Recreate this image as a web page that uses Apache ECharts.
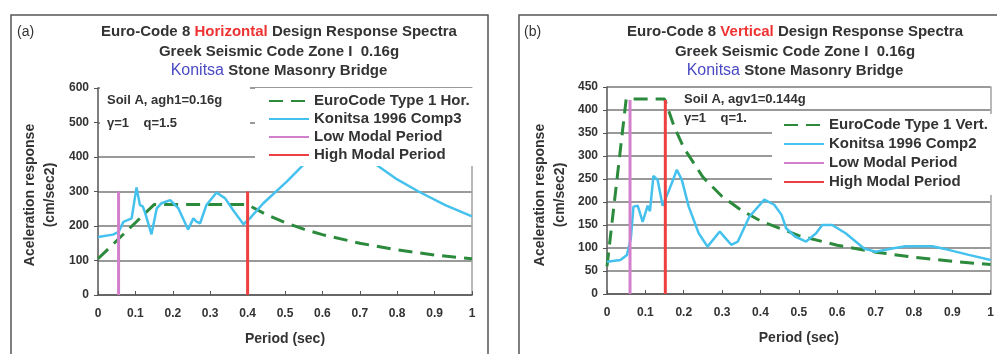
<!DOCTYPE html>
<html>
<head>
<meta charset="utf-8">
<script src="https://cdn.jsdelivr.net/npm/echarts@6/dist/echarts.min.js"></script>
<style>
  html, body { margin: 0; padding: 0; background: #fff; }
  #chart { width: 997px; height: 354px; }
</style>
</head>
<body>
<div id="chart"></div>
<script>
// ---- (a) horizontal spectra ----
const periodTicks = [0, 0.1, 0.2, 0.3, 0.4, 0.5, 0.6, 0.7, 0.8, 0.9, 1];

const hCodeT = [0, 0.15, 0.4, 0.45, 0.5, 0.55, 0.6, 0.7, 0.8, 0.9, 1.0];
const hCodeA = [105, 262, 262, 233, 210, 191, 175, 150, 131, 116, 105];

const hRecT = [0, 0.04, 0.055, 0.068, 0.09, 0.103, 0.112, 0.12, 0.126, 0.143, 0.157, 0.17, 0.193, 0.215,
  0.241, 0.255, 0.264, 0.273, 0.29, 0.317, 0.34, 0.362, 0.389, 0.406, 0.442, 0.504, 0.549, 0.6, 0.65,
  0.7, 0.745, 0.8, 0.857, 0.93, 1.0];
const hRecA = [168, 175, 183, 212, 222, 312, 261, 256, 238, 176, 251, 266, 275, 251,
  190, 222, 212, 208, 261, 297, 280, 245, 205, 222, 266, 328, 377, 430, 450,
  420, 377, 335, 300, 260, 228];

const hLowPeriod = 0.055;
const hHighPeriod = 0.4;
const hModalTop = 300;

// ---- (b) vertical spectra ----
const vCodeT = [0, 0.05, 0.15, 0.175, 0.2, 0.25, 0.3, 0.35, 0.4, 0.5, 0.6, 0.7, 0.8, 0.9, 1.0];
const vCodeA = [60, 424, 424, 364, 318, 254, 212, 182, 159, 127, 106, 91, 80, 71, 64];

const vRecT = [0, 0.035, 0.052, 0.062, 0.069, 0.08, 0.093, 0.106, 0.112, 0.121, 0.132, 0.145, 0.16, 0.173,
  0.182, 0.195, 0.213, 0.239, 0.262, 0.294, 0.308, 0.324, 0.341, 0.371, 0.41, 0.436, 0.455, 0.467, 0.49,
  0.519, 0.545, 0.561, 0.587, 0.622, 0.67, 0.70, 0.743, 0.778, 0.848, 0.89, 0.943, 1.0];
const vRecA = [70, 74, 85, 120, 190, 192, 157, 192, 180, 257, 248, 192, 222, 250,
  270, 248, 190, 132, 103, 136, 122, 107, 114, 168, 205, 194, 172, 143, 125,
  114, 132, 150, 150, 132, 99, 92, 99, 104, 104, 96, 85, 74];

const vLowPeriod = 0.06;
const vHighPeriod = 0.152;
const vModalTop = 422;

const NAME_CODE_H = 'EuroCode Type 1 Hor.';
const NAME_REC_H = 'Konitsa 1996 Comp3';
const NAME_CODE_V = 'EuroCode Type 1 Vert.';
const NAME_REC_V = 'Konitsa 1996 Comp2';
const NAME_LOW = 'Low Modal Period';
const NAME_HIGH = 'High Modal Period';

const GREEN = '#2b8a3c';
const CYAN = '#45c1ee';
const PINK = '#d27fcc';
const RED = '#ee4040';
const TEXT = '#333';
const FONT = 'Liberation Sans, Arial, sans-serif';

const pairs = (xs, ys) => xs.map((x, i) => [x, ys[i]]);
const vertical = (t, top) => [[t, 0], [t, top]];

function xAxisFor(grid) {
  return {
    type: 'value', gridIndex: grid, min: 0, max: 1, interval: 0.1,
    name: 'Period (sec)', nameLocation: 'middle', nameGap: 37,
    nameTextStyle: { fontFamily: FONT, fontWeight: 'bold', fontSize: 14, color: TEXT },
    axisLine: { show: true, lineStyle: { color: '#555', width: 1.5 } },
    axisTick: { show: true, inside: true, length: 4, lineStyle: { color: '#555' } },
    axisLabel: {
      margin: 13, fontFamily: FONT, fontWeight: 'bold', fontSize: 12, color: TEXT,
      formatter: v => (periodTicks.includes(+v.toFixed(1)) ? (+v.toFixed(1)).toString() : '')
    },
    splitLine: { show: false }
  };
}

function yAxisFor(grid, max, step) {
  return {
    type: 'value', gridIndex: grid, min: 0, max: max, interval: step,
    axisLine: { show: true, lineStyle: { color: '#555', width: 1.5 } },
    axisTick: { show: true, inside: false, length: 4, lineStyle: { color: '#555' } },
    axisLabel: { margin: 9, fontFamily: FONT, fontWeight: 'bold', fontSize: 12, color: TEXT },
    splitLine: { show: true, lineStyle: { color: '#9a9a9a', width: 2 } }
  };
}

function frameAxisFor(grid, max) {
  return {
    type: 'value', gridIndex: grid, position: 'right', min: 0, max: max,
    axisLine: { show: true, lineStyle: { color: '#a0a0a0', width: 1.5 } },
    axisTick: { show: false }, axisLabel: { show: false }, splitLine: { show: false }
  };
}

function legendFor(names, left, top, gap, padding) {
  return {
    data: names, orient: 'vertical', left: left, top: top, itemGap: gap,
    itemWidth: 40, itemHeight: 14, padding: padding,
    backgroundColor: '#fff', selectedMode: false,
    itemStyle: { opacity: 0, borderWidth: 0 },
    textStyle: { fontFamily: FONT, fontWeight: 'bold', fontSize: 15, color: TEXT, lineHeight: 16 }
  };
}

const lineSeries = (name, xi, yi, data, color, width, dash) => ({
  name, type: 'line', xAxisIndex: xi, yAxisIndex: yi, data,
  showSymbol: false, symbol: 'none', animation: false,
  lineStyle: { color, width, type: dash || 'solid' },
  itemStyle: { color }
});

const titleRich = {
  a: { fontFamily: FONT, fontWeight: 'bold', fontSize: 15, fill: TEXT },
  r: { fontFamily: FONT, fontWeight: 'bold', fontSize: 15, fill: '#ee3333' },
  b: { fontFamily: FONT, fontWeight: 'normal', fontSize: 16, fill: '#4a4ac4' }
};

function titleBlock(cx, word) {
  return [
    { type: 'text', z: 100, x: cx, y: 32, style: { text: '{a|Euro-Code 8 }{r|' + word + '}{a| Design Response Spectra}', rich: titleRich, align: 'center', verticalAlign: 'middle' } },
    { type: 'text', z: 100, x: cx, y: 52, style: { text: 'Greek Seismic Code Zone I  0.16g', font: 'bold 15px ' + FONT, fill: TEXT, align: 'center', verticalAlign: 'middle' } },
    { type: 'text', z: 100, x: cx, y: 71, style: { text: '{b|Konitsa}{a| Stone Masonry Bridge}', rich: titleRich, align: 'center', verticalAlign: 'middle' } }
  ];
}

function yName(cx, cy) {
  return {
    type: 'text', z: 100, x: cx, y: cy, rotation: Math.PI / 2,
    style: { text: 'Aceleration response\n(cm/sec2)', font: 'bold 14px ' + FONT, fill: TEXT, align: 'center', verticalAlign: 'middle', lineHeight: 20 }
  };
}

const chart = echarts.init(document.getElementById('chart'), null, { renderer: 'canvas' });
chart.setOption({
  animation: false,
  backgroundColor: '#fff',
  grid: [
    { left: 98, right: 525, top: 88, bottom: 59 },
    { left: 607, right: 5, top: 87, bottom: 60 }
  ],
  xAxis: [xAxisFor(0), xAxisFor(1)],
  yAxis: [yAxisFor(0, 600, 100), yAxisFor(1, 450, 50), frameAxisFor(0, 600), frameAxisFor(1, 450)],
  legend: [
    legendFor([NAME_CODE_H, NAME_REC_H, NAME_LOW, NAME_HIGH], 255, 88, 2, [5, 8, 3, 13]),
    legendFor([NAME_CODE_V, NAME_REC_V, NAME_LOW, NAME_HIGH], 772, 114, 3, [3, 8, 5, 11])
  ],
  series: [
    lineSeries(NAME_CODE_H, 0, 0, pairs(hCodeT, hCodeA), GREEN, 3, [14, 8]),
    lineSeries(NAME_REC_H, 0, 0, pairs(hRecT, hRecA), CYAN, 2.5),
    lineSeries(NAME_LOW, 0, 0, vertical(hLowPeriod, hModalTop), PINK, 3),
    lineSeries(NAME_HIGH, 0, 0, vertical(hHighPeriod, hModalTop), RED, 3),
    lineSeries(NAME_CODE_V, 1, 1, pairs(vCodeT, vCodeA), GREEN, 3, [14, 8]),
    lineSeries(NAME_REC_V, 1, 1, pairs(vRecT, vRecA), CYAN, 2.5),
    lineSeries(NAME_LOW, 1, 1, vertical(vLowPeriod, vModalTop), PINK, 3),
    lineSeries(NAME_HIGH, 1, 1, vertical(vHighPeriod, vModalTop), RED, 3)
  ],
  graphic: [
    // panel frames
    { type: 'rect', z: 110, shape: { x: 11, y: 15, width: 477, height: 360 }, style: { fill: 'none', stroke: '#555', lineWidth: 1.5 } },
    { type: 'rect', z: 110, shape: { x: 519, y: 15, width: 490, height: 360 }, style: { fill: 'none', stroke: '#555', lineWidth: 1.5 } },
    { type: 'text', z: 100, x: 17, y: 32, style: { text: '(a)', font: '14px ' + FONT, fill: TEXT, verticalAlign: 'middle' } },
    { type: 'text', z: 100, x: 524, y: 32, style: { text: '(b)', font: '14px ' + FONT, fill: TEXT, verticalAlign: 'middle' } },
    ...titleBlock(279, 'Horizontal'),
    ...titleBlock(795, 'Vertical'),
    yName(40, 195),
    yName(550, 195),
    // soil / factor notes
    { type: 'rect', z: 95, shape: { x: 100, y: 86, width: 150, height: 48 }, style: { fill: '#fff' } },
    { type: 'text', z: 100, x: 107, y: 100, style: { text: 'Soil A, agh1=0.16g', font: 'bold 13px ' + FONT, fill: TEXT, verticalAlign: 'middle' } },
    { type: 'text', z: 100, x: 107, y: 123, style: { text: 'γ=1    q=1.5', font: 'bold 13px ' + FONT, fill: TEXT, verticalAlign: 'middle' } },
    { type: 'text', z: 100, x: 684, y: 99, style: { text: 'Soil A, agv1=0.144g', font: 'bold 13px ' + FONT, fill: TEXT, verticalAlign: 'middle' } },
    { type: 'text', z: 100, x: 684, y: 118, style: { text: 'γ=1    q=1.', font: 'bold 13px ' + FONT, fill: TEXT, verticalAlign: 'middle' } }
  ]
});
</script>
</body>
</html>
